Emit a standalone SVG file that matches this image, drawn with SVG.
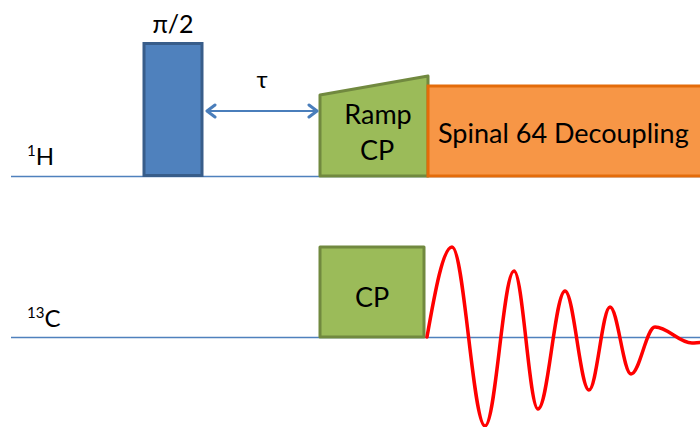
<svg xmlns="http://www.w3.org/2000/svg" width="700" height="427" viewBox="0 0 700 427">
<defs>
<style>
.axis{stroke:#4F81BD;stroke-width:1.3;fill:none}
.lbl{font-family:Lato,"Open Sans","Liberation Sans",sans-serif;fill:#000}
.green{fill:#9BBB59;stroke:#71893F;stroke-width:3;stroke-linejoin:round}
.conn{stroke:#4A7EBB;stroke-width:2;fill:none}
</style>
<marker id="ah" viewBox="0 0 16 16" refX="12" refY="8" markerWidth="16" markerHeight="16" orient="auto-start-reverse" markerUnits="userSpaceOnUse">
<path d="M4,2 L12,8 L4,14" fill="none" stroke="#4A7EBB" stroke-width="3" stroke-linecap="round" stroke-linejoin="round"/>
</marker>
</defs>
<rect width="700" height="427" fill="#fff"/>
<g id="axes">
<line class="axis" x1="11" y1="176.5" x2="700" y2="176.5"/>
<line class="axis" x1="11" y1="337.5" x2="700" y2="337.5"/>
</g>
<g id="label-1H"><text class="lbl" x="27" y="165" font-size="24"><tspan font-size="15" dy="-9">1</tspan><tspan dy="9">H</tspan></text></g>
<g id="label-13C"><text class="lbl" x="27" y="327" font-size="24"><tspan font-size="15" dy="-9">13</tspan><tspan dy="9">C</tspan></text></g>
<g id="pulse90">
<rect x="144" y="43.5" width="58" height="132" fill="#4F81BD" stroke="#385D8A" stroke-width="3"/>
<text class="lbl" x="173" y="33" font-size="25" text-anchor="middle">π/2</text>
</g>
<g id="tau"><text class="lbl" x="262" y="88" font-size="24" text-anchor="middle">τ</text></g>
<g id="rampcp">
<polygon class="green" points="320,95 428,76 428,176 320,176"/>
<text class="lbl" x="378" y="124" font-size="27" text-anchor="middle">Ramp</text>
<text class="lbl" x="377" y="160" font-size="27" text-anchor="middle">CP</text>
</g>
<g id="decoupling">
<rect x="428" y="86" width="280" height="90" fill="#F79646" stroke="#E46C0A" stroke-width="3"/>
<text class="lbl" x="438" y="143" font-size="27">Spinal 64 Decoupling</text>
</g>
<g id="cp13c">
<rect class="green" x="320" y="247" width="104" height="90"/>
<text class="lbl" x="372" y="307" font-size="27" text-anchor="middle">CP</text>
</g>
<g id="fid">
<path d="M427,337 C435.1,291 443.2,247 452,247 C464,247 473,426 485,426 C495.6,426 503.4,271 514,271 C522.7,271 529.3,409 538,409 C547.8,409 555.2,291 565,291 C573.7,291 580.3,390 589,390 C596.6,390 602.4,307 610,307 C617.6,307 623.4,374 631,374 C639.7,374 646.3,327 655,327 C668,327 679,343 692,343 C695,343 698,342.5 700,342.5" fill="none" stroke="#FF0000" stroke-width="3.5" stroke-linejoin="round" stroke-linecap="round"/>
</g>
<g id="connectors">
<line class="conn" x1="207" y1="111" x2="317" y2="111" marker-start="url(#ah)" marker-end="url(#ah)"/>
</g>
</svg>
